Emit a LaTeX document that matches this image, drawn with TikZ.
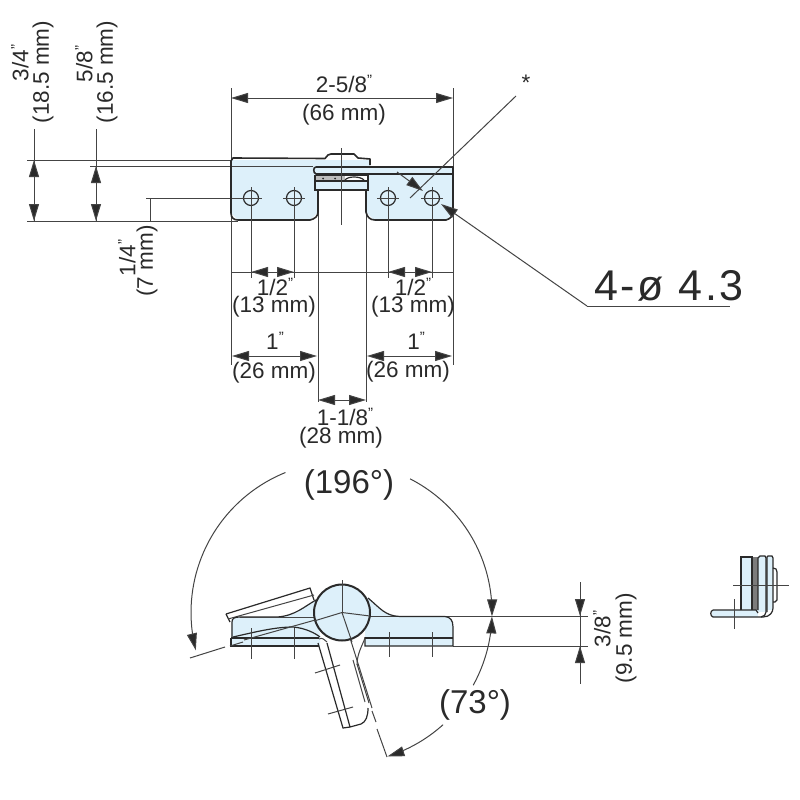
\documentclass[tikz,border=0pt]{standalone}
\usepackage{fontspec}
\setmainfont{Liberation Sans}
\usetikzlibrary{arrows.meta}
\definecolor{ink}{HTML}{2A2A2A}
\definecolor{thin}{HTML}{444444}
\definecolor{part}{HTML}{DDF0FA}
\newcommand{\inch}{\raisebox{.30em}{\fontsize{15}{15}\selectfont"}}
\tikzset{
  x=1pt,y=-1pt,
  hair/.style={draw=thin,line width=1pt},
  body/.style={draw=ink,line width=1.6pt,line join=round},
  blue/.style={fill=part,draw=none},
  med/.style={draw=ink,line width=1.2pt},
  dim/.style={draw=thin,line width=1pt,{Triangle[length=17pt,width=10pt,fill=ink]}-{Triangle[length=17pt,width=10pt,fill=ink]}},
  dimr/.style={draw=thin,line width=1pt,-{Triangle[length=17pt,width=10pt,fill=ink]}},
  lab/.style={font=\fontsize{22.5}{22.5}\selectfont,text=ink,inner sep=0pt},
  big/.style={font=\fontsize{33}{33}\selectfont,text=ink,inner sep=0pt},
}
\begin{document}
\begin{tikzpicture}
\useasboundingbox (0,0) rectangle (800,800);
\fill[white] (0,0) rectangle (800,800);
% ---------- top view fills
\path[blue] (231,160) -- (370,160) -- (370,176) -- (368,190) -- (318,190) -- (318,212) -- (310,220) -- (238,220) -- (231,213) -- cycle;
\path[blue] (313,167) -- (453,167) -- (453,213) -- (446,220) -- (374,220) -- (366,212) -- (366,176) -- (313,176) -- cycle;
% ---------- top view extension lines
\draw[hair] (27,160) -- (231,160);
\draw[hair] (90,166) -- (313,166);
\draw[hair] (146,198) -- (243,198);
\draw[hair] (150,198) -- (150,221);
\draw[hair] (27,221) -- (238,221);
\draw[hair] (231,88) -- (231,365);
\draw[hair] (453,88) -- (453,365);
\draw[hair] (318,190) -- (318,402);
\draw[hair] (366,190) -- (366,402);
% ---------- top view outlines
\draw[body] (231,213) -- (231,161) -- (233,158) -- (325,158.500) -- (328,155) -- (331,154) -- (354,154) -- (358,158) -- (370,159) -- (370,165);
\draw[body] (231,213) .. controls (231,218) and (234,220) .. (238,220) -- (310,220) .. controls (315,219) and (318,216) .. (318,212) -- (318,190);
\draw[body] (366,190) -- (366,212) .. controls (367,217) and (370,220) .. (375,220) -- (446,220) .. controls (450,219) and (453,216) .. (453,212) -- (453,167) -- (316,167) .. controls (313,167) and (313,173) .. (316,174) -- (453,174);
\fill[white] (316,176) rectangle (367,181);
\fill[thin!35] (316,176) rectangle (345,181);
\foreach \dx in {323,335}{\fill[ink] (\dx,178.500) circle[radius=1];}
\draw[med] (315,175.500) rectangle (368,190);
\draw[med] (345,180) .. controls (348,176) and (360,176) .. (364,180);
\draw[med] (315,181) -- (368,181);
\draw[hair] (341,148) -- (341,225);
\foreach \hx/\hn in {251/a,294/b,388/c,432/d}{
  \draw[med] (\hx,198) circle[radius=7.500];
  \draw[hair] (\hx-11,198) -- (\hx+11,198);
  \draw[hair] (\hx,187) -- (\hx,278);
}
% ---------- top view dimensions
\draw[dim] (231,98) -- (453,98);
\node[lab] (t1) at (344,84) {2-5/8\inch};
\node[lab] (t2) at (344,115) {(66 mm)};
\draw[hair] (34,129) -- (34,221);
\draw[dim] (34,160) -- (34,221);
\draw[hair] (96,129) -- (96,221);
\draw[dim] (96,166) -- (96,221);
\node[lab,rotate=90] (t3) at (20,63) {3/4\inch};
\node[lab,rotate=90] (t4) at (43,72) {(18.5 mm)};
\node[lab,rotate=90] (t5) at (84,64) {5/8\inch};
\node[lab,rotate=90] (t6) at (107,72) {(16.5 mm)};
\node[lab,rotate=90] (t7) at (127,258) {1/4\inch};
\node[lab,rotate=90] (t8) at (147,261) {(7 mm)};
\draw[hair] (231,272) -- (453,272);
\draw[dim] (251,272) -- (294,272);
\draw[dim] (388,272) -- (432,272);
\node[lab] (t9) at (275,287) {1/2\inch};
\node[lab] (t10) at (274,307) {(13 mm)};
\node[lab] (t11) at (413,287) {1/2\inch};
\node[lab] (t12) at (413,307) {(13 mm)};
\draw[dim] (232,356) -- (317,356);
\draw[dim] (367,356) -- (452,356);
\node[lab] (t13) at (275,341) {1\inch};
\node[lab] (t14) at (274,373) {(26 mm)};
\node[lab] (t15) at (416,341) {1\inch};
\node[lab] (t16) at (408,372) {(26 mm)};
\draw[dim] (318,400) -- (366,400);
\node[lab] (t17) at (345,417) {1-1/8\inch};
\node[lab] (t18) at (341,438) {(28 mm)};
% leaders
\draw[hair] (410,198) -- (516,96);
\node[lab] (star) at (526,83) {*};
\draw[dimr] (397,172) -- (423,191);
\coordinate (lead) at (587,306);
\draw[dimr] (lead) -- (441,204);
\draw[hair] (lead) -- (730,306);
\node[inner sep=0pt,text=ink,font=\fontsize{43}{43}\selectfont\addfontfeatures{LetterSpace=6}] (hole) at (669,286) {4-ø 4.3};
% ---------- front view
\coordinate (c) at (342,612.500);
\path[blue] (232,620) .. controls (232,617) and (235,617) .. (240,617) -- (277,617) .. controls (295,616) and (305,606) .. (316,600) -- (320,636) -- (320,646) -- (231,646) -- cycle;
\path[blue] (365,596) .. controls (380,610) and (385,616) .. (400,616.500) -- (445,616.500) .. controls (450,617) and (453,620) .. (453,627) -- (453,646) -- (365,646) -- cycle;
% horizontals
\draw[hair] (342,616) -- (588,616);
\draw[hair] (453,646) -- (588,646);
% parts left
\draw[med] (226,614) -- (310,588) -- (314,600);
\draw[med] (226,614) -- (230,622);
\draw[hair] (228,619) -- (314,595);
\draw[med] (232,638) -- (232,622) .. controls (232,618) and (235,617) .. (240,617) -- (277,617) .. controls (295,616) and (305,606) .. (316,600);
\draw[hair] (240,617) -- (320,617);
\draw[med] (233,637) .. controls (255,632) and (275,627) .. (293,627) .. controls (305,628) and (315,633) .. (320,637);
\draw[med] (231,638) -- (231,646) -- (319,646);
\draw[med] (231,638) -- (319,638);
% parts right
\draw[med] (368,598) .. controls (380,608) and (385,616) .. (400,616.500) -- (445,616.500) .. controls (450,617) and (453,620) .. (453,627) -- (453,646) -- (365,646) -- (365,637);
\draw[med] (365,638) -- (453,638);
% arm
\draw[med] (318,643) -- (343,728) -- (350,727);
\draw[med] (327,643) -- (350,727) -- (361,724) .. controls (366,722) and (368,716) .. (368,708);
\draw[hair] (353,660) -- (365,702);
\draw[hair] (357,664) -- (369,703);
\draw[hair] (365,638) .. controls (362,646) and (357,654) .. (357,665);
\draw[hair] (319,639) .. controls (322,637) and (325,640) .. (327,642);
\draw[hair] (315,673) -- (340,665);
\draw[hair] (328,714) -- (353,707);
% axis lines from the pin
\draw[hair] (c) -- (244,640);
\draw[hair] (243,642) -- (230,646);
\draw[hair] (225,647) -- (190,658);
\draw[hair] (c) -- (372,708);
\draw[hair] (372,711) -- (376,722);
\draw[hair] (377,729) -- (387,757);
% pin
\fill[part] (c) circle[radius=28];
\draw[draw=ink,line width=2pt] (c) circle[radius=28];
\draw[hair] (c) -- (342,580);
\draw[hair] (c) -- (370,616);
\draw[hair] (c) -- (314,621);
\draw[hair] (c) -- (352,642);
% ticks
\foreach \tx in {251,294}{\draw[hair] (\tx,628) -- (\tx,659);}
\foreach \tx in {389,432}{\draw[hair] (\tx,632) -- (\tx,657);}
% angle arcs
\draw[dimr] plot[domain=112:194.500,samples=40] ({342+151*cos(\x)},{612.5-151*sin(\x)});
\draw[dimr] plot[domain=63:-1.500,samples=40] ({342+150*cos(\x)},{612.5-150*sin(\x)});
\draw[dimr] plot[domain=-29:-1.500,samples=30] ({342+150*cos(\x)},{612.5-150*sin(\x)});
\draw[dimr] plot[domain=-48:-72.500,samples=30] ({342+151*cos(\x)},{612.5-151*sin(\x)});
\node[big] (a1) at (349,485) {(196°)};
\node[big] (a2) at (475,705) {(73°)};
% 3/8 dimension
\draw[hair] (580,582) -- (580,684);
\draw[dimr] (580,598) -- (580,616);
\draw[dimr] (580,666) -- (580,646);
\node[lab,rotate=90] (t19) at (602,629) {3/8\inch};
\node[lab,rotate=90] (t20) at (626,638) {(9.5 mm)};
% ---------- side view
\fill[part] (741,557) rectangle (752,610);
\fill[part] (758,556) rectangle (766,612);
\fill[part] (767,556) rectangle (773,610);
\fill[part] (712,610) rectangle (758,617);
\fill[thin!70] (752,557) rectangle (758,610);
\draw[med] (741,610) -- (741,557) -- (752,557) -- (752,610);
\draw[med] (758,610) -- (758,558) -- (760,556) -- (765,556) -- (766,558) -- (766,612) .. controls (766,615) and (764,616) .. (761,617);
\draw[med] (767,612) -- (767,557) -- (768,556) -- (772,556) -- (773,558) -- (773,608) .. controls (773,612) and (770,617) .. (763,617);
\draw[med] (773,568) -- (776,569) -- (777,572) -- (777,600) -- (775,602) -- (773,602);
\draw[med] (713,610) -- (756,610) -- (758,613);
\draw[med] (713,610) .. controls (710,611) and (710,616) .. (713,617) -- (763,617);
\draw[hair] (733,585) -- (789,585);
\draw[hair] (734,599) -- (734,629);
\end{tikzpicture}
\end{document}
